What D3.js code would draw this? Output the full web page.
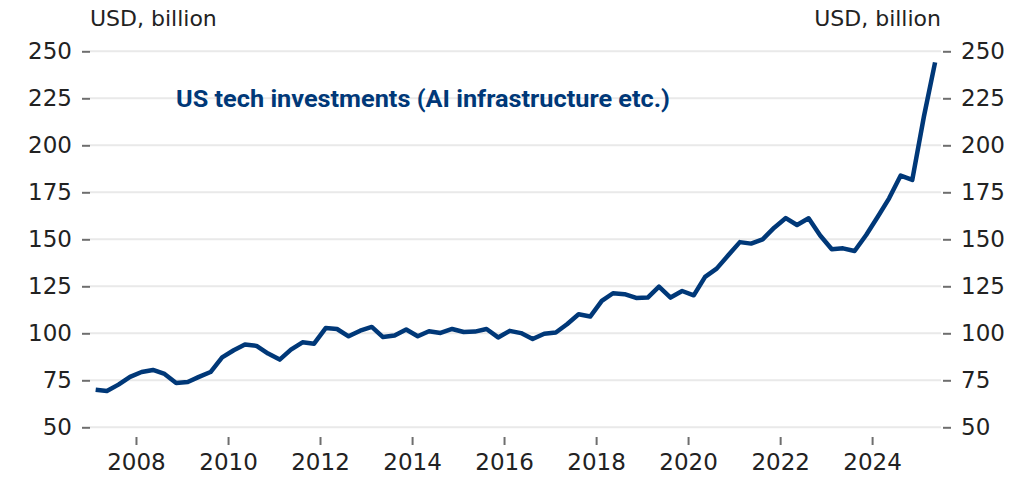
<!DOCTYPE html>
<html>
<head>
<meta charset="utf-8">
<script src="https://cdn.jsdelivr.net/npm/d3@7"></script>
<style>
  body { margin: 0; background: #fff; }
  svg { display: block; }
  .axis text { font-family: "DejaVu Sans", sans-serif; font-size: 23px; fill: #222; }
  .axis line { stroke: #6e6e6e; stroke-width: 2; }
  .axis path { display: none; }
</style>
</head>
<body>
<script>
const width = 1031;
const height = 479;

// quarterly series, 2007Q1 .. 2025Q2
const firstYear = 2007;
const values = [
  70.0, 69.3, 72.7, 76.8, 79.4, 80.5, 78.4, 73.6,
  74.1, 76.8, 79.4, 87.2, 91.0, 94.0, 93.3, 89.2,
  86.0, 91.3, 95.2, 94.5, 102.8, 102.3, 98.4, 101.4,
  103.4, 98.0, 98.8, 102.0, 98.4, 101.1, 100.2, 102.3,
  100.7, 100.9, 102.3, 97.8, 101.3, 100.1, 97.0, 99.8,
  100.4, 104.8, 110.1, 108.9, 117.2, 121.3, 120.8, 118.8,
  119.0, 124.8, 119.0, 122.5, 120.2, 130.0, 134.4, 141.5,
  148.5, 147.7, 150.0, 156.2, 161.3, 157.6, 161.2, 152.0,
  144.7, 145.2, 143.8, 152.3, 162.0, 171.8, 183.9, 181.6,
  215.2, 244.1
];
const yTicks = [50, 75, 100, 125, 150, 175, 200, 225, 250];
const xTickYears = [2008, 2010, 2012, 2014, 2016, 2018, 2020, 2022, 2024];
const unitLabel = "USD, billion";
const seriesLabel = "US tech investments (AI infrastructure etc.)";

// mid-quarter dates for each point
const data = values.map((v, i) => ({
  date: new Date(firstYear + Math.floor(i / 4), (i % 4) * 3 + 1, 15),
  value: v
}));

const svg = d3.select("body").append("svg")
  .attr("width", width)
  .attr("height", height);

const x = d3.scaleTime()
  .domain([new Date(2007, 0, 1), new Date(2025, 6, 1)])
  .range([90, 941]);

const y = d3.scaleLinear()
  .domain([50, 250])
  .range([427.3, 51.3]);

// gridlines
svg.append("g")
  .selectAll("line")
  .data(yTicks)
  .join("line")
    .attr("x1", 90)
    .attr("x2", 941)
    .attr("y1", d => y(d))
    .attr("y2", d => y(d))
    .attr("stroke", "#e9e9e9")
    .attr("stroke-width", 2);

// left and right axes
svg.append("g")
  .attr("class", "axis")
  .attr("transform", "translate(90,0)")
  .call(d3.axisLeft(y).tickValues(yTicks).tickSize(8).tickPadding(10));

svg.append("g")
  .attr("class", "axis")
  .attr("transform", "translate(943,0)")
  .call(d3.axisRight(y).tickValues(yTicks).tickSize(8).tickPadding(10));

// bottom axis
svg.append("g")
  .attr("class", "axis")
  .attr("transform", "translate(0,437)")
  .call(d3.axisBottom(x)
    .tickValues(xTickYears.map(yr => new Date(yr, 0, 1)))
    .tickFormat(d3.timeFormat("%Y"))
    .tickSize(8)
    .tickPadding(9));

// unit labels
svg.append("text")
  .attr("x", 90).attr("y", 26)
  .attr("font-family", "DejaVu Sans, sans-serif")
  .attr("font-size", 22)
  .attr("fill", "#222")
  .text(unitLabel);

svg.append("text")
  .attr("x", 941).attr("y", 26)
  .attr("text-anchor", "end")
  .attr("font-family", "DejaVu Sans, sans-serif")
  .attr("font-size", 22)
  .attr("fill", "#222")
  .text(unitLabel);

// series line
const line = d3.line()
  .x(d => x(d.date))
  .y(d => y(d.value));

svg.append("path")
  .datum(data)
  .attr("fill", "none")
  .attr("stroke", "#003878")
  .attr("stroke-width", 4.5)
  .attr("stroke-linejoin", "round")
  .attr("d", line);

// series label
svg.append("text")
  .attr("x", 176).attr("y", 107)
  .attr("font-family", "Roboto, sans-serif")
  .attr("font-weight", "bold")
  .attr("font-size", 24)
  .attr("fill", "#003878")
  .attr("textLength", 494)
  .attr("lengthAdjust", "spacingAndGlyphs")
  .text(seriesLabel);
</script>
</body>
</html>
